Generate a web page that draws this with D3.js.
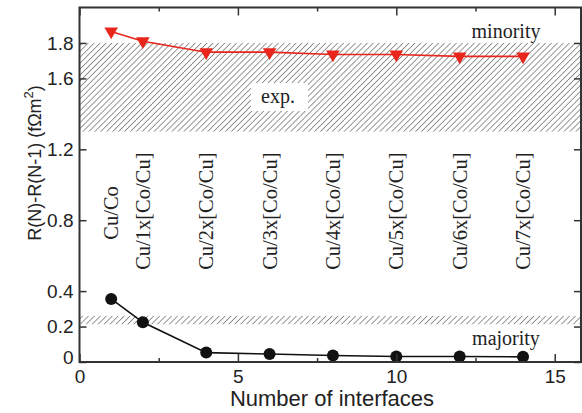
<!DOCTYPE html>
<html><head><meta charset="utf-8">
<script src="https://cdn.jsdelivr.net/npm/d3@7"></script>
<style>body{margin:0;background:#fff}svg{display:block}</style>
</head><body>
<script>
const nInterfaces = [1, 2, 4, 6, 8, 10, 12, 14];
const minority = [1.865, 1.81, 1.748, 1.748, 1.735, 1.735, 1.724, 1.724];
const majority = [0.356, 0.224, 0.053, 0.045, 0.037, 0.031, 0.031, 0.029];
const structures = ["Cu/Co", "Cu/1x[Co/Cu]", "Cu/2x[Co/Cu]", "Cu/3x[Co/Cu]", "Cu/4x[Co/Cu]", "Cu/5x[Co/Cu]", "Cu/6x[Co/Cu]", "Cu/7x[Co/Cu]"];
const structureBaseY = [0.69, 0.52, 0.52, 0.52, 0.52, 0.52, 0.52, 0.52];
const expMinority = [1.3, 1.8];
const expMajority = [0.213, 0.26];
const yTicks = [0, 0.2, 0.4, 0.8, 1.2, 1.6, 1.8];
const xMajor = [0, 5, 10, 15];
const xMinor = [2.5, 7.5, 12.5];

const W = 582, H = 413;
const svg = d3.select("body").append("svg").attr("width", W).attr("height", H);
const L = 79.5, R = 581, T = 7.5, B = 362;
const x = d3.scaleLinear().domain([0, 15.83]).range([L, R]);
const y = d3.scaleLinear().domain([0, 2.0]).range([B, T]);
const SERIF = "Liberation Serif, Times New Roman, serif";
const SANS = "Liberation Sans, Arial, sans-serif";

const defs = svg.append("defs");
const pat = defs.append("pattern").attr("id", "hatch").attr("patternUnits", "userSpaceOnUse")
  .attr("width", 4.2).attr("height", 4.2).attr("patternTransform", "rotate(45)");
pat.append("line").attr("x1", 0).attr("y1", 0).attr("x2", 0).attr("y2", 4.2)
  .attr("stroke", "#858585").attr("stroke-width", 1.7);

const clip = defs.append("clipPath").attr("id", "plotclip");
clip.append("rect").attr("x", L).attr("y", T).attr("width", R - L).attr("height", B - T);

const g = svg.append("g").attr("clip-path", "url(#plotclip)");
[expMinority, expMajority].forEach(b => {
  g.append("rect").attr("x", L).attr("width", R - L)
    .attr("y", y(b[1])).attr("height", y(b[0]) - y(b[1]))
    .attr("fill", "url(#hatch)");
});

// exp. label with white box
g.append("rect").attr("x", 251).attr("y", 83).attr("width", 57).attr("height", 28).attr("fill", "#fff");
svg.append("text").attr("x", 278).attr("y", 103).attr("text-anchor", "middle")
  .attr("font-family", SERIF).attr("font-size", 20).attr("fill", "#222").text("exp.");
svg.append("text").attr("x", 506).attr("y", 38).attr("text-anchor", "middle")
  .attr("font-family", SERIF).attr("font-size", 20).attr("fill", "#222").text("minority");
svg.append("text").attr("x", 506).attr("y", 345).attr("text-anchor", "middle")
  .attr("font-family", SERIF).attr("font-size", 20).attr("fill", "#222").text("majority");

// structure labels
structures.forEach((s, i) => {
  svg.append("text")
    .attr("transform", `translate(${x(nInterfaces[i]) + 7},${y(structureBaseY[i])}) rotate(-90)`)
    .attr("font-family", SERIF).attr("font-size", 20.5).attr("fill", "#222")
    .text(s);
});

// lines
const line = d3.line().x(d => x(d[0])).y(d => y(d[1]));
const minData = nInterfaces.map((n, i) => [n, minority[i]]);
const majData = nInterfaces.map((n, i) => [n, majority[i]]);
svg.append("path").datum(minData).attr("d", line).attr("fill", "none").attr("stroke", "#e8261c").attr("stroke-width", 1.6);
svg.append("path").datum(majData).attr("d", line).attr("fill", "none").attr("stroke", "#111").attr("stroke-width", 1.6);
const tri = d3.symbol().type(d3.symbolTriangle).size(80);
svg.selectAll(".tri").data(minData).enter().append("path")
  .attr("transform", d => `translate(${x(d[0])},${y(d[1])}) rotate(180)`)
  .attr("d", tri).attr("fill", "#e8261c");
svg.selectAll(".dot").data(majData).enter().append("circle")
  .attr("cx", d => x(d[0])).attr("cy", d => y(d[1])).attr("r", 6).attr("fill", "#111");

// frame
svg.append("rect").attr("x", L).attr("y", T).attr("width", R - L).attr("height", B - T)
  .attr("fill", "none").attr("stroke", "#333").attr("stroke-width", 2);

function styleTicks(sel) {
  sel.select(".domain").remove();
  sel.selectAll("line").attr("stroke", "#333").attr("stroke-width", 1.5);
}
const xAxB = d3.axisBottom(x).tickValues(xMajor).tickSizeInner(-8).tickSizeOuter(0).tickPadding(8).tickFormat(d3.format("d"));
const gx = svg.append("g").attr("transform", `translate(0,${B})`).call(xAxB);
styleTicks(gx);
gx.selectAll("text").attr("font-family", SANS).attr("font-size", 19).attr("fill", "#222");
styleTicks(svg.append("g").attr("transform", `translate(0,${B})`)
  .call(d3.axisBottom(x).tickValues(xMinor).tickSizeInner(-4).tickSizeOuter(0).tickFormat("")));
styleTicks(svg.append("g").attr("transform", `translate(0,${T})`)
  .call(d3.axisTop(x).tickValues(xMajor).tickSizeInner(-8).tickSizeOuter(0).tickFormat("")));
styleTicks(svg.append("g").attr("transform", `translate(0,${T})`)
  .call(d3.axisTop(x).tickValues(xMinor).tickSizeInner(-4).tickSizeOuter(0).tickFormat("")));

const gy = svg.append("g").attr("transform", `translate(${L},0)`)
  .call(d3.axisLeft(y).tickValues(yTicks).tickSizeInner(-7).tickSizeOuter(0).tickPadding(6)
    .tickFormat(d => d === 0 ? "0" : d3.format(".1f")(d)));
styleTicks(gy);
gy.selectAll("text").attr("font-family", SANS).attr("font-size", 19).attr("fill", "#222");
gy.selectAll(".tick").filter(d => d === 0).select("text").attr("dy", "0.1em");
styleTicks(svg.append("g").attr("transform", `translate(${R},0)`)
  .call(d3.axisRight(y).tickValues(yTicks).tickSizeInner(-7).tickSizeOuter(0).tickFormat("")));

// axis titles
svg.append("text").attr("x", 332).attr("y", 406).attr("text-anchor", "middle")
  .attr("font-family", SANS).attr("font-size", 22).attr("fill", "#222")
  .text("Number of interfaces");
const yt = svg.append("text").attr("transform", "translate(41,163) rotate(-90)").attr("text-anchor", "middle")
  .attr("font-family", SANS).attr("font-size", 18).attr("fill", "#222");
yt.append("tspan").text("R(N)-R(N-1) (fΩm");
yt.append("tspan").attr("dy", -8).attr("font-size", 13).text("2");
yt.append("tspan").attr("dy", 8).text(")");
</script>
</body></html>
